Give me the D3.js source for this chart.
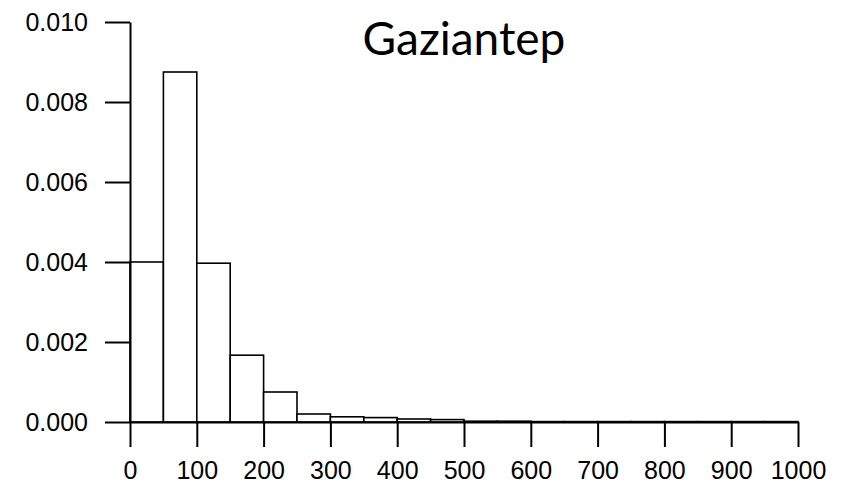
<!DOCTYPE html>
<html>
<head>
<meta charset="utf-8">
<style>
body { margin: 0; background: #fff; }
.bar { fill: #fff; stroke: #000; stroke-width: 1.6; }
.axis path, .axis line { stroke: #000; stroke-width: 2; }
.axis text { font-family: "Liberation Sans", sans-serif; font-size: 25px; fill: #000; }
.title { font-family: "Lato", "DejaVu Sans", sans-serif; font-size: 46px; }
</style>
</head>
<body>
<svg width="846" height="486"></svg>
<script src="https://d3js.org/d3.v7.min.js"></script>
<script>

// histogram bins (width 50) and their densities
var binStarts = [0, 50, 100, 150, 200, 250, 300, 350, 400, 450,
                 500, 550, 600, 650, 700, 750, 800, 850, 900, 950];
var density = [0.0040, 0.00875, 0.00397, 0.00167, 0.00075, 0.00020, 0.00013, 0.00011, 0.000075, 0.00006,
               0.00002, 0.00002, 0.00001, 0.00001, 0.00001, 0.00001, 0.00001, 0.00001, 0.00001, 0.00001];
var binWidth = 50;
var xTicks = [0, 100, 200, 300, 400, 500, 600, 700, 800, 900, 1000];
var yTicks = [0, 0.002, 0.004, 0.006, 0.008, 0.010];
var title = "Gaziantep";

var svg = d3.select("svg"),
    margin = {top: 22, right: 48, bottom: 64, left: 130},
    width = +svg.attr("width") - margin.left - margin.right,
    height = +svg.attr("height") - margin.top - margin.bottom;

var x = d3.scaleLinear().domain([0, 1000]).range([0, width]),
    y = d3.scaleLinear().domain([0, 0.010]).range([height, 0]);

var g = svg.append("g")
    .attr("transform", "translate(" + margin.left + "," + margin.top + ")");

g.selectAll(".bar")
    .data(binStarts)
  .enter().append("rect")
    .attr("class", "bar")
    .attr("x", function(d) { return x(d); })
    .attr("width", function(d) { return x(d + binWidth) - x(d); })
    .attr("y", function(d, i) { return y(density[i]); })
    .attr("height", function(d, i) { return height - y(density[i]); });

g.append("g")
    .attr("class", "axis axis--x")
    .attr("transform", "translate(0," + height + ")")
    .call(d3.axisBottom(x).tickValues(xTicks).tickFormat(d3.format("d"))
      .tickSizeInner(25).tickSizeOuter(0).tickPadding(14));

g.append("g")
    .attr("class", "axis axis--y")
    .call(d3.axisLeft(y).tickValues(yTicks).tickFormat(d3.format(".3f"))
      .tickSizeInner(25).tickSizeOuter(0).tickPadding(17));

g.append("text")
    .attr("class", "title")
    .attr("x", width / 2)
    .attr("y", 33)
    .attr("text-anchor", "middle")
    .text(title);

</script>
</body>
</html>
